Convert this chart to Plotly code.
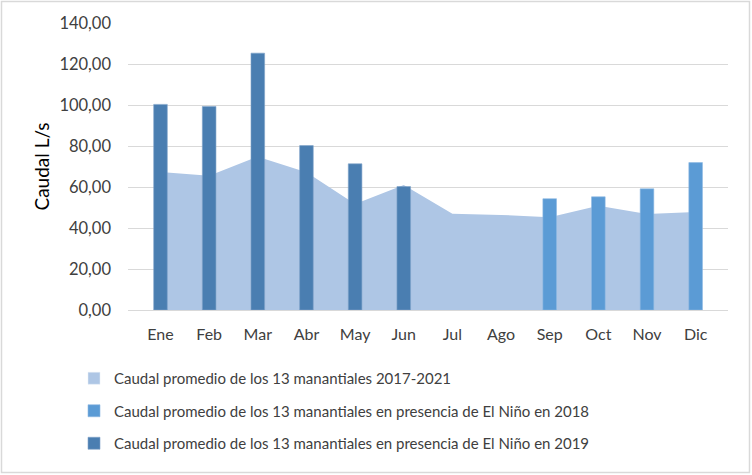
import plotly.graph_objects as go

months = ["Ene", "Feb", "Mar", "Abr", "May", "Jun", "Jul", "Ago", "Sep", "Oct", "Nov", "Dic"]
avg_2017_2021 = [67.3, 65.5, 74.8, 67.2, 51.7, 61.0, 47.0, 46.4, 45.2, 50.8, 46.8, 47.8]
nino_2018 = [None, None, None, None, None, None, None, None, 54.3, 55.2, 59.1, 71.9]
nino_2019 = [100.3, 99.3, 125.3, 80.2, 71.3, 60.2, None, None, None, None, None, None]

names = [
    "Caudal promedio de los 13 manantiales 2017-2021",
    "Caudal promedio de los 13 manantiales en presencia de El Niño en 2018",
    "Caudal promedio de los 13 manantiales en presencia de El Niño en 2019",
]
c_area = "#AEC6E5"
c_2018 = "#5B9BD5"
c_2019 = "#4A7EB1"
FONT = "Lato, Open Sans, sans-serif"

fig = go.Figure()
fig.add_trace(go.Scatter(x=months, y=avg_2017_2021, mode="lines", line=dict(width=0, color=c_area),
                         fill="tozeroy", fillcolor=c_area, showlegend=False, name=names[0],
                         hoverinfo="y"))
# legend proxy (square symbol)
fig.add_trace(go.Bar(x=months, y=[None] * 12, marker_color=c_area, name=names[0], legendgroup="a"))
fig.add_trace(go.Bar(x=months, y=nino_2018, xaxis="x2", yaxis="y2",
                     marker=dict(color=c_2018, line=dict(color="#8DB8E3", width=0.6)),
                     width=0.28, name=names[1], legendgroup="b"))
fig.add_trace(go.Bar(x=months, y=nino_2019, xaxis="x2", yaxis="y2",
                     marker=dict(color=c_2019, line=dict(color="#7FA3C9", width=0.6)),
                     width=0.28, name=names[2], legendgroup="c"))

L, R, T, B = 128, 728, 23, 310
def px(x): return (x - L) / (R - L)
def py(y): return (B - y) / (B - T)
fig.add_shape(type="rect", xref="paper", yref="paper",
              x0=px(1.5), x1=px(749.5), y0=py(472.5), y1=py(1.5),
              line=dict(color="#D9D9D9", width=1.5), layer="below")

fig.update_layout(
    width=752, height=475,
    margin=dict(l=L, r=752 - R, t=T, b=475 - B, autoexpand=False),
    paper_bgcolor="white", plot_bgcolor="white",
    barmode="overlay",
    separators=",.",
    font=dict(family=FONT, size=15, color="#595959"),
    xaxis=dict(showgrid=False, showline=False, ticks="", tickfont=dict(size=16, color="#404040"),
               range=[-0.668, 11.665], ticklabelstandoff=13),
    xaxis2=dict(overlaying="x", matches="x", visible=False),
    yaxis=dict(range=[0, 140], dtick=20, tickformat=".2f", showgrid=True, gridcolor="#D9D9D9",
               gridwidth=1.2, zeroline=True, zerolinecolor="#D9D9D9", zerolinewidth=1.2,
               tickfont=dict(size=16.5, color="#404040"), ticklabelstandoff=16,
               title=dict(text="Caudal L/s", font=dict(size=19, color="#000000"), standoff=4)),
    yaxis2=dict(overlaying="y", matches="y", visible=False),
    legend=dict(orientation="v", x=px(74), y=py(362), xanchor="left", yanchor="top",
                font=dict(size=15, color="#404040"), tracegroupgap=10, itemwidth=30,
                bgcolor="rgba(0,0,0,0)"),
    showlegend=True,
)

fig.write_html("out.html", config={"displayModeBar": False},
               post_script="document.body.style.margin='0';")
